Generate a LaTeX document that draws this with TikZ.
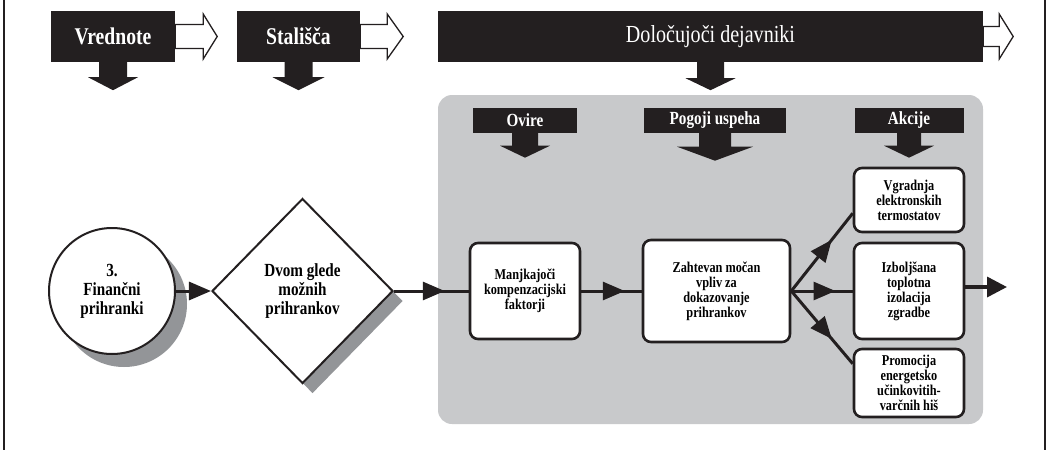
\documentclass[tikz,border=0pt]{standalone}
\usepackage{fontspec}
\setmainfont{Liberation Serif}[FakeStretch=0.82]
\usetikzlibrary{shapes.geometric,calc,decorations.markings,arrows.meta,shadows}
\definecolor{ink}{HTML}{231F20}
\definecolor{panelgray}{HTML}{C8C9CB}
\definecolor{shadegray}{HTML}{939598}
\tikzset{
  topbox/.style={fill=ink,text=white,inner sep=0pt,minimum height=51,font=\bfseries\fontsize{24}{26}\selectfont},
  subbox/.style={fill=ink,text=white,inner sep=0pt,minimum height=25,font=\bfseries\fontsize{18.5}{20}\selectfont},
  flowbox/.style={draw=ink,line width=2.6pt,fill=white,rounded corners=8pt,align=center,inner sep=2pt,font=\bfseries\fontsize{15}{15}\selectfont},
  conn/.style={draw=ink,line width=3pt},
  midtip/.style={postaction={decorate},decoration={markings,mark=at position #1 with {\arrow{Triangle[length=22pt,width=18pt]}}}},
  outlinearrow/.style={fill=white,draw=ink,line width=1.3pt,line join=miter},
}
\begin{document}
\begin{tikzpicture}[x=1pt,y=-1pt]
\useasboundingbox (0,0) rectangle (1047,450);
\draw[ink,line width=1.5pt] (4,0) -- (4,450);
\draw[ink,line width=1.5pt] (1045,0) -- (1045,450);
\fill[panelgray,rounded corners=14pt] (438,95) rectangle (983,424);

% top headers
\node[topbox,minimum width=124] (vred) at (113,36.5) {Vrednote};
\node[topbox,minimum width=123] (stal) at (298.5,36.5) {Stališča};
\node[topbox,minimum width=545,font=\fontsize{24.5}{26}\selectfont] (dolo) at (710.5,36.5) {Določujoči dejavniki};

\foreach \na/\sa/\ha/\wa in {vred/28/14/12, stal/27/16/12, dolo/16/14/10}{
  \draw[outlinearrow] ($(\na.east)+(0,-\wa)$) -- ++(\sa,0) -- ++(0,-22.5+\wa)
    -- ($(\na.east)+(\sa+\ha,0)$) -- ($(\na.east)+(\sa,22.5)$) -- ++(0,-22.5+\wa)
    -- ($(\na.east)+(0,\wa)$) -- cycle;
}

% inner headers
\node[subbox,minimum width=104] (ovir) at (525,120) {Ovire};
\node[subbox,minimum width=142] (pogo) at (715,120) {Pogoji uspeha};
\node[subbox,minimum width=109] (akci) at (909,120) {Akcije};

\foreach \na/\ws/\ls/\wh/\lh in {vred/14/15/25/13, stal/14/15/26/13, dolo/13.5/16/25/12, ovir/13/13/25/12, pogo/16/14/38/14, akci/12/13/25/12}{
  \fill[ink] ($(\na.south)+(-\ws,-0.5)$) -- ($(\na.south)+(-\ws,\ls)$) -- ($(\na.south)+(-\wh,\ls)$)
    -- ($(\na.south)+(0,\ls+\lh)$) -- ($(\na.south)+(\wh,\ls)$) -- ($(\na.south)+(\ws,\ls)$)
    -- ($(\na.south)+(\ws,-0.5)$) -- cycle;
}

% main flow
\node[circle,draw=ink,line width=2pt,fill=white,minimum size=126,inner sep=0pt,align=center,
  font=\bfseries\fontsize{18.5}{19}\selectfont,
  drop shadow={shadow xshift=12pt,shadow yshift=-13pt,fill=shadegray,opacity=1}] (fin) at (112,291) {3.\\Finančni\\prihranki};
\node[diamond,draw=ink,line width=2pt,fill=white,minimum width=181,minimum height=185,inner sep=0pt,align=center,
  font=\bfseries\fontsize{18.5}{19}\selectfont,
  drop shadow={shadow xshift=10pt,shadow yshift=-10pt,fill=shadegray,opacity=1}] (dia) at (302.5,291) {Dvom glede\\možnih\\prihrankov};

\node[flowbox,minimum width=110,minimum height=96] (manj) at (525,291) {Manjkajoči\\kompenzacijski\\faktorji};
\node[flowbox,minimum width=147,minimum height=102] (zaht) at (716.5,291) {Zahtevan močan\\vpliv za\\dokazovanje\\prihrankov};
\node[flowbox,minimum width=110,minimum height=64] (vgr) at (909,200) {Vgradnja\\elektronskih\\termostatov};
\node[flowbox,minimum width=110,minimum height=96] (izb) at (909,291) {Izboljšana\\toplotna\\izolacija\\zgradbe};
\node[flowbox,minimum width=110,minimum height=68] (prom) at (909,383) {Promocija\\energetsko\\učinkovitih-\\varčnih hiš};

\coordinate (out) at (1007,287);

\draw[conn,-{Triangle[length=22pt,width=18pt]}] (fin) -- (dia);
\draw[conn,midtip=0.68] (dia) -- (manj);
\draw[conn,midtip=0.72] (manj) -- (zaht);
\draw[conn,midtip=0.66] (zaht.east) -- ($(vgr.south west)+(0,-20)$);
\draw[conn,midtip=0.72] (zaht) -- (izb);
\draw[conn,midtip=0.66] (zaht.east) -- ($(prom.north west)+(0,16)$);
\draw[conn,line width=3.5pt,-{Triangle[length=20pt,width=20pt]}] (izb.east |- out) -- (out);
\end{tikzpicture}
\end{document}
